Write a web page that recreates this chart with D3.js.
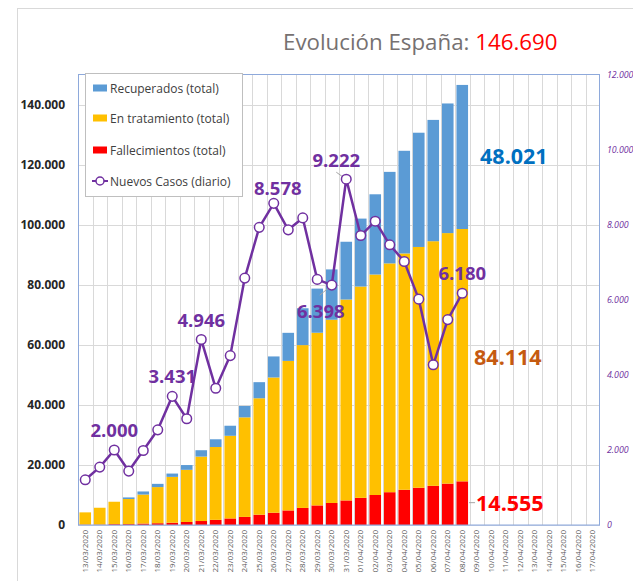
<!DOCTYPE html>
<html><head><meta charset="utf-8">
<script src="https://cdn.jsdelivr.net/npm/d3@7/dist/d3.min.js"></script>
<style>body{margin:0;background:#fff}svg{display:block}</style>
</head><body>
<svg id="chart" width="633" height="581"></svg>
<script>
// ---------------- DATA ----------------
const dates = ["13/03/2020","14/03/2020","15/03/2020","16/03/2020","17/03/2020","18/03/2020","19/03/2020","20/03/2020","21/03/2020","22/03/2020","23/03/2020","24/03/2020","25/03/2020","26/03/2020","27/03/2020","28/03/2020","29/03/2020","30/03/2020","31/03/2020","01/04/2020","02/04/2020","03/04/2020","04/04/2020","05/04/2020","06/04/2020","07/04/2020","08/04/2020","09/04/2020","10/04/2020","11/04/2020","12/04/2020","13/04/2020","14/04/2020","15/04/2020","16/04/2020","17/04/2020"];
const fallecimientos = [120,136,288,309,491,598,767,1002,1326,1720,2182,2696,3434,4089,4858,5690,6528,7340,8189,9053,10003,10935,11744,12418,13055,13798,14555];
const enTratamiento = [4089,5617,7465,8352,9659,12037,15273,17390,21475,24277,27552,33183,38809,45084,49844,54273,57560,61075,66969,70436,73492,76262,78773,80261,81540,83504,84114];
const recuperados = [0,0,0,530,1028,1081,1107,1588,2125,2575,3355,3794,5367,7015,9357,12285,14709,16780,19259,22647,26743,30513,34219,38080,40437,43208,48021];
const nuevosCasos = [1205,1544,2000,1438,1987,2538,3431,2833,4946,3646,4517,6584,7937,8578,7871,8189,6549,6398,9222,7719,8102,7472,7026,6023,4273,5478,6180];
const leftTicks = [0,20000,40000,60000,80000,100000,120000,140000];
const rightTicks = [0,2000,4000,6000,8000,10000,12000];
const highlightedDays = ["15/03/2020","19/03/2020","21/03/2020","26/03/2020","30/03/2020","31/03/2020","08/04/2020"];
const seriesNames = ["Recuperados (total)","En tratamiento (total)","Fallecimientos (total)","Nuevos Casos (diario)"];
const titleText = "Evolución España: ";

// ---------------- SETUP ----------------
const C = {blue:"#5B9BD5", yellow:"#FFC000", red:"#FF0000", purple:"#7030A0", grid:"#D9D9D9", border:"#8EA9DB", orange:"#C55A11", blueLbl:"#0070C0"};
const loc = d3.formatLocale({decimal:",", thousands:".", grouping:[3], currency:["","€"]});
const fmt = loc.format(",d");
const svg = d3.select("#chart");
const FONT = "'Open Sans', 'Noto Sans', sans-serif";
const P = {l:78, r:600, t:75, b:525};

const x = d3.scaleBand().domain(dates).range([P.l, P.r]).paddingInner(0.2).paddingOuter(0.1);
const yL = d3.scaleLinear().domain([0,150000]).range([P.b, P.t]);
const yR = d3.scaleLinear().domain([0,12000]).range([P.b, P.t]);
const step = x.step();
const cx = d => x(d) + x.bandwidth()/2;

// outer chart frame
svg.append("line").attr("x1",17.5).attr("x2",17.5).attr("y1",8).attr("y2",581).attr("stroke","#D9D9D9");
svg.append("line").attr("x1",17).attr("x2",633).attr("y1",8.5).attr("y2",8.5).attr("stroke","#D9D9D9");

// title
const title = svg.append("text").attr("x",283).attr("y",50).attr("font-family",FONT).attr("font-size",22.3);
title.append("tspan").attr("fill","#767171").text(titleText);
const totalLast = fallecimientos[26]+enTratamiento[26]+recuperados[26];
title.append("tspan").attr("fill",C.red).text(fmt(totalLast));

// gridlines
const g = svg.append("g");
g.selectAll(".hg").data(leftTicks.filter(d=>d>0)).join("line")
  .attr("x1",P.l).attr("x2",P.r).attr("y1",d=>Math.round(yL(d))+0.5).attr("y2",d=>Math.round(yL(d))+0.5)
  .attr("stroke",C.grid);
g.selectAll(".vg").data(dates.slice(1)).join("line")
  .attr("x1",d=>Math.round(x(d)-step*0.1)+0.5).attr("x2",d=>Math.round(x(d)-step*0.1)+0.5)
  .attr("y1",P.t).attr("y2",P.b).attr("stroke",C.grid);

// stacked bars
const rows = fallecimientos.map((f,i)=>({date:dates[i], f, t:enTratamiento[i], r:recuperados[i]}));
const stack = d3.stack().keys(["f","t","r"])(rows);
const colors = {f:C.red, t:C.yellow, r:C.blue};
svg.append("g").selectAll("g").data(stack).join("g").attr("fill",s=>colors[s.key])
  .selectAll("rect").data(s=>s).join("rect")
  .attr("x",d=>x(d.data.date)).attr("width",x.bandwidth())
  .attr("y",d=>yL(d[1])).attr("height",d=>Math.max(0,yL(d[0])-yL(d[1])));

// plot border
svg.append("rect").attr("x",P.l+0.5).attr("y",P.t-0.5).attr("width",P.r-P.l-1).attr("height",P.b-P.t+0.5)
  .attr("fill","none").attr("stroke",C.border).attr("stroke-width",1);
svg.append("line").attr("x1",P.l).attr("x2",P.r).attr("y1",P.b+0.5).attr("y2",P.b+0.5).attr("stroke","#A9BCE0");

// line series
const pts = nuevosCasos.map((v,i)=>({date:dates[i], v}));
svg.append("path").datum(pts).attr("fill","none").attr("stroke",C.purple).attr("stroke-width",2.5)
  .attr("stroke-linejoin","round")
  .attr("d", d3.line().x(d=>cx(d.date)).y(d=>yR(d.v)));

// leader lines
const lead = svg.append("g").attr("stroke","#A6A6A6").attr("stroke-width",1);
const iMax = dates.indexOf("31/03/2020"), iLow = dates.indexOf("30/03/2020");
lead.append("line").attr("x1",cx(dates[iMax])-10).attr("y1",yR(nuevosCasos[iMax])-7).attr("x2",cx(dates[iMax])-3).attr("y2",yR(nuevosCasos[iMax])-2);
lead.append("line").attr("x1",cx(dates[iLow])-12).attr("y1",yR(nuevosCasos[iLow])+10).attr("x2",cx(dates[iLow])-2).attr("y2",yR(nuevosCasos[iLow])+2);
lead.append("line").attr("x1",x(dates[26])+x.bandwidth()+1).attr("x2",x(dates[26])+x.bandwidth()+7)
  .attr("y1",yL(fallecimientos[26]/2)-0.5).attr("y2",yL(fallecimientos[26]/2)-0.5);

svg.append("g").selectAll("circle").data(pts).join("circle")
  .attr("cx",d=>cx(d.date)).attr("cy",d=>yR(d.v)).attr("r",4.8)
  .attr("fill","#fff").attr("stroke",C.purple).attr("stroke-width",1.5);

// data labels for new cases
const lblOffsets = {"15/03/2020":[0,-13],"19/03/2020":[0,-13],"21/03/2020":[0,-12.5],"26/03/2020":[4,-8],"31/03/2020":[-10,-12],"30/03/2020":[-11,33],"08/04/2020":[0,-13]};
svg.append("g").selectAll("text").data(highlightedDays).join("text")
  .attr("x",d=>cx(d)+lblOffsets[d][0]).attr("y",d=>yR(nuevosCasos[dates.indexOf(d)])+lblOffsets[d][1])
  .attr("text-anchor","middle").attr("font-family",FONT).attr("font-weight","bold").attr("font-size",18.5)
  .attr("fill",C.purple).text(d=>fmt(nuevosCasos[dates.indexOf(d)]));

// totals labels on last bar
const lx = x(dates[26]) + x.bandwidth();
const fL = fallecimientos[26], tL = enTratamiento[26], rL = recuperados[26];
const tot = svg.append("g").attr("font-family",FONT).attr("font-weight","bold").attr("font-size",21.5);
tot.append("text").attr("x",lx+12).attr("y",yL(fL+tL+rL/2)+7.5).attr("fill",C.blueLbl).text(fmt(rL));
tot.append("text").attr("x",lx+6).attr("y",yL(fL+tL/2)+10).attr("fill",C.orange).text(fmt(tL));
tot.append("text").attr("x",lx+8).attr("y",yL(fL/2)+7.5).attr("fill",C.red).text(fmt(fL));

// axes
const axL = svg.append("g").attr("transform",`translate(${P.l},0)`)
  .call(d3.axisLeft(yL).tickValues(leftTicks).tickSize(0).tickPadding(13).tickFormat(fmt));
axL.select(".domain").remove();
axL.selectAll("text").attr("font-family",FONT).attr("font-weight","bold").attr("font-size",12).attr("fill","#262626");

const axR = svg.append("g").attr("transform",`translate(${P.r},0)`)
  .call(d3.axisRight(yR).tickValues(rightTicks).tickSize(0).tickPadding(7).tickFormat(fmt));
axR.select(".domain").remove();
axR.selectAll("text").attr("font-family",FONT).attr("font-style","italic").attr("font-size",8.8).attr("fill",C.purple);

const axB = svg.append("g").attr("transform",`translate(0,${P.b})`)
  .call(d3.axisBottom(x).tickSize(0).tickPadding(0));
axB.select(".domain").remove();
axB.selectAll("text").attr("font-family",FONT).attr("font-size",8).attr("fill","#595959")
  .attr("text-anchor","end").attr("transform","rotate(-90)").attr("x",-5).attr("y",0).attr("dy","0.32em").attr("dx",0);

// legend
const lg = svg.append("g").attr("transform","translate(85,73)");
lg.append("rect").attr("x",0.5).attr("y",0.5).attr("width",157).attr("height",123).attr("fill","#fff").attr("stroke","#BFBFBF");
const rowY = [15,45,77,108];
const legendColors = [C.blue, C.yellow, C.red];
seriesNames.forEach((name,i)=>{
  if(i<3){
    lg.append("rect").attr("x",8).attr("y",rowY[i]-3.5).attr("width",14).attr("height",7).attr("fill",legendColors[i]);
  } else {
    lg.append("line").attr("x1",7).attr("x2",23).attr("y1",rowY[i]).attr("y2",rowY[i]).attr("stroke",C.purple).attr("stroke-width",2);
    lg.append("circle").attr("cx",15).attr("cy",rowY[i]).attr("r",4).attr("fill","#fff").attr("stroke",C.purple).attr("stroke-width",1.5);
  }
  lg.append("text").attr("x",25).attr("y",rowY[i]+4.5).attr("font-family",FONT).attr("font-size",12).attr("fill","#404040").text(name);
});
</script>
</body></html>
